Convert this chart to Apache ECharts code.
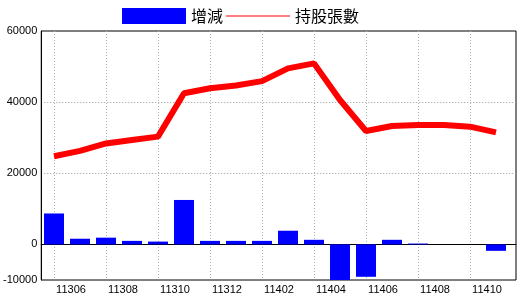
<!DOCTYPE html>
<html>
<head>
<meta charset="utf-8">
<script src="https://cdn.jsdelivr.net/npm/echarts@6/dist/echarts.min.js"></script>
<style>html,body{margin:0;padding:0;background:#fff;}#c{width:520px;height:300px;}</style>
</head>
<body>
<div id="c"></div>
<script>
const categories = ['11305','11306','11307','11308','11309','11310','11311','11312','11401','11402','11403','11404','11405','11406','11407','11408','11409','11410'];
const changeValues = [8700, 1600, 1900, 1000, 800, 12500, 1000, 1000, 1000, 3850, 1300, -10000, -9100, 1300, 250, 0, 0, -1800];
const holderValues = [24800, 26300, 28400, 29350, 30300, 42500, 43900, 44700, 45900, 49500, 50900, 40600, 31900, 33300, 33600, 33600, 33100, 31500];
const yTickLabels = ['-10000', '0', '20000', '40000', '60000'];
const seriesNames = ['增減', '持股張數'];

const chart = echarts.init(document.getElementById('c'));
const lbl = {fontFamily: 'Liberation Sans', fontSize: 11, color: '#000'};
chart.setOption({
  animation: false,
  backgroundColor: '#fff',
  legend: {
    left: 122, top: 8, padding: 0,
    itemWidth: 64, itemHeight: 16, itemGap: 3,
    textStyle: {fontFamily: 'Noto Sans CJK TC', fontSize: 16, color: '#000'},
    data: [
      {name: seriesNames[0], icon: 'rect'},
      {name: seriesNames[1], icon: 'path://M0,0L64,0L64,1L0,1Z', itemStyle: {color: '#ff0000'}}
    ]
  },
  grid: [
    {left: 39, right: 4, top: 31, bottom: 20, show: true, borderColor: '#000', borderWidth: 1, backgroundColor: 'transparent'},
    {left: 54, right: 24, top: 31, bottom: 20}
  ],
  xAxis: [
    {gridIndex: 0, type: 'value', min: 0, max: 1,
     axisLine: {show: true, onZero: true, lineStyle: {color: '#000', width: 1}},
     axisTick: {show: false}, axisLabel: {show: false}, splitLine: {show: false}},
    {gridIndex: 1, type: 'category', data: categories, boundaryGap: false,
     axisLine: {show: false}, axisTick: {show: false},
     axisLabel: Object.assign({interval: (i) => i % 2 === 1, margin: 4, padding: [0, 18, 0, 0]}, lbl),
     splitLine: {show: true, interval: (i) => i % 2 === 0, lineStyle: {color: '#9db6cc', type: [1, 2], width: 1}}}
  ],
  yAxis: [
    {gridIndex: 0, type: 'value', min: -10000, max: 60000, interval: 10000,
     axisLine: {show: true, lineStyle: {color: '#000'}}, axisTick: {show: false},
     axisLabel: Object.assign({margin: 4, formatter: (v) => yTickLabels.indexOf(String(v)) >= 0 ? String(v) : ''}, lbl),
     splitLine: {show: true, showMinLine: true, showMaxLine: true,
       lineStyle: {color: ['transparent','transparent','transparent','#999999','transparent','#999999','transparent','transparent'], type: [1, 2], width: 1}}},
    {gridIndex: 1, type: 'value', min: -10000, max: 60000, show: false, splitLine: {show: false}}
  ],
  series: [
    {name: seriesNames[0], type: 'bar', xAxisIndex: 1, yAxisIndex: 1, data: changeValues,
     barWidth: 20, clip: false, itemStyle: {color: '#0000ff'}},
    {name: seriesNames[1], type: 'line', xAxisIndex: 1, yAxisIndex: 1, data: holderValues,
     symbol: 'none', showSymbol: false, clip: false, color: '#ff0000',
     lineStyle: {color: '#ff0000', width: 6}}
  ]
});
</script>
</body>
</html>
